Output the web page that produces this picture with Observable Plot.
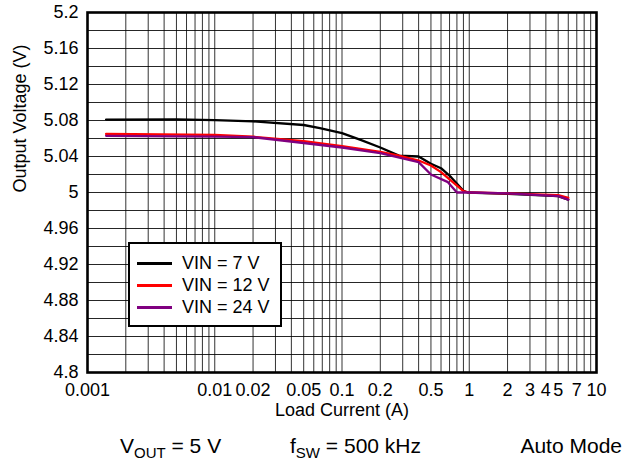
<!DOCTYPE html>
<html>
<head>
<meta charset="utf-8">
<script src="https://cdn.jsdelivr.net/npm/d3@7"></script>
<script src="https://cdn.jsdelivr.net/npm/@observablehq/plot@0.6"></script>
<style>
  body { margin: 0; background: #fff; font-family: "Liberation Sans", Arial, Helvetica, sans-serif; }
  #wrap { position: relative; width: 627px; height: 463px; overflow: hidden; }
  #legend { position: absolute; left: 128px; top: 242px; width: 150px; height: 81px; border: 2.5px solid #000; background: #fff; box-sizing: content-box; }
  .row { position: absolute; left: 0; height: 22px; font-size: 18px; line-height: 22px; }
  .sw { position: absolute; left: 7px; top: 10px; width: 35px; height: 2.5px; }
  .lab { position: absolute; left: 52px; top: 0; white-space: nowrap; }
  .foot { position: absolute; top: 435px; font-size: 21px; line-height: 21px; white-space: nowrap; }
  .sub { font-size: 15px; vertical-align: -5px; }
</style>
</head>
<body>
<div id="wrap"></div>
<script>
// ---- data ----
const seriesNames = ["VIN = 7 V", "VIN = 12 V", "VIN = 24 V"];
const seriesColors = ["#000000", "#ff0000", "#800080"];

const load7 = [0.0014, 0.005, 0.01, 0.02, 0.05, 0.067, 0.1, 0.14, 0.2, 0.28, 0.4, 0.5, 0.6, 0.72, 0.9, 0.97, 2, 5, 6];
const vout7 = [5.081, 5.0812, 5.0805, 5.079, 5.075, 5.0715, 5.066, 5.0585, 5.050, 5.041, 5.040, 5.032, 5.027, 5.017, 5.002, 5.000, 4.9985, 4.996, 4.992];

const load12 = [0.0014, 0.01, 0.02, 0.05, 0.1, 0.2, 0.28, 0.4, 0.5, 0.6, 0.9, 1, 2, 5, 6];
const vout12 = [5.065, 5.064, 5.062, 5.057, 5.0515, 5.045, 5.041, 5.0355, 5.030, 5.0226, 5.0014, 5.000, 4.999, 4.997, 4.994];

const load24 = [0.0014, 0.01, 0.02, 0.05, 0.1, 0.2, 0.4, 0.5, 0.68, 0.8, 1, 2, 5, 6];
const vout24 = [5.063, 5.062, 5.0615, 5.055, 5.050, 5.0437, 5.0337, 5.020, 5.0115, 5.0, 5.0, 4.999, 4.996, 4.992];

const xTicks = [0.001, 0.01, 0.02, 0.05, 0.1, 0.2, 0.5, 1, 2, 3, 4, 5, 7, 10];
const xTickLabels = ["0.001", "0.01", "0.02", "0.05", "0.1", "0.2", "0.5", "1", "2", "3", "4", "5", "7", "10"];
const yTicks = [4.8, 4.84, 4.88, 4.92, 4.96, 5, 5.04, 5.08, 5.12, 5.16, 5.2];
const yTickLabels = ["4.8", "4.84", "4.88", "4.92", "4.96", "5", "5.04", "5.08", "5.12", "5.16", "5.2"];

const xTitle = "Load Current (A)";
const yTitle = "Output Voltage (V)";

// ---- grid (log decades 1..9, and every 0.02 V) ----
const gridX = [];
for (let e = -3; e <= 0; e++) for (let k = 1; k <= 9; k++) gridX.push(+(k * Math.pow(10, e)).toPrecision(3));
gridX.push(10);
const gridY = d3.range(0, 21).map(i => +(4.8 + 0.02 * i).toFixed(2));

const toRows = (xs, ys, name) => xs.map((x, i) => ({load: x, vout: ys[i], name}));
const s7 = toRows(load7, vout7, seriesNames[0]);
const s12 = toRows(load12, vout12, seriesNames[1]);
const s24 = toRows(load24, vout24, seriesNames[2]);
const xTickRows = xTicks.map((v, i) => ({v, label: xTickLabels[i]}));
const yTickRows = yTicks.map((v, i) => ({v, label: yTickLabels[i]}));

const chart = Plot.plot({
  width: 627,
  height: 422,
  marginLeft: 87,
  marginRight: 31,
  marginTop: 12,
  marginBottom: 50,
  style: { fontFamily: '"Liberation Sans", Arial, Helvetica, sans-serif', fontSize: "18px", color: "#000", background: "transparent", overflow: "visible" },
  x: { type: "log", domain: [0.001, 10], axis: null },
  y: { domain: [4.8, 5.2], axis: null },
  marks: [
    Plot.ruleX(gridX, { stroke: "#000", strokeWidth: 1, strokeOpacity: 0.8 }),
    Plot.ruleY(gridY, { stroke: "#000", strokeWidth: 1, strokeOpacity: 0.85 }),
    Plot.line(s7, { x: "load", y: "vout", stroke: seriesColors[0], strokeWidth: 2.3 }),
    Plot.line(s12, { x: "load", y: "vout", stroke: seriesColors[1], strokeWidth: 2.3 }),
    Plot.line(s24, { x: "load", y: "vout", stroke: seriesColors[2], strokeWidth: 2.3 }),
    Plot.frame({ stroke: "#000", strokeWidth: 2.6 }),
    // tick labels placed through the scales
    Plot.text(xTickRows, { x: "v", text: "label", frameAnchor: "bottom", lineAnchor: "top", dy: 11, fontSize: 18, fill: "#000" }),
    Plot.text(yTickRows, { y: "v", text: "label", frameAnchor: "left", textAnchor: "end", dx: -9, fontSize: 18, fill: "#000" }),
    Plot.text([xTitle], { text: d => d, frameAnchor: "bottom", dy: 43, fontSize: 18, fill: "#000" }),
    Plot.text([yTitle], { text: d => d, frameAnchor: "left", dx: -67, rotate: -90, fontSize: 18, fill: "#000" })
  ]
});

const wrap = document.getElementById("wrap");
wrap.appendChild(chart);

// legend
const legend = document.createElement("div");
legend.id = "legend";
seriesNames.forEach((n, i) => {
  const row = document.createElement("div");
  row.className = "row";
  row.style.top = (8 + i * 22) + "px";
  row.style.width = "150px";
  const sw = document.createElement("div");
  sw.className = "sw";
  sw.style.background = seriesColors[i];
  const lab = document.createElement("div");
  lab.className = "lab";
  lab.textContent = n;
  row.appendChild(sw);
  row.appendChild(lab);
  legend.appendChild(row);
});
wrap.appendChild(legend);

// footer notes
const f1 = document.createElement("div");
f1.className = "foot"; f1.style.left = "120px";
f1.innerHTML = 'V<span class="sub">OUT</span> = 5 V';
const f2 = document.createElement("div");
f2.className = "foot"; f2.style.left = "290px";
f2.innerHTML = 'f<span class="sub">SW</span> = 500 kHz';
const f3 = document.createElement("div");
f3.className = "foot"; f3.style.right = "5px";
f3.textContent = "Auto Mode";
wrap.appendChild(f1); wrap.appendChild(f2); wrap.appendChild(f3);
</script>
</body>
</html>
